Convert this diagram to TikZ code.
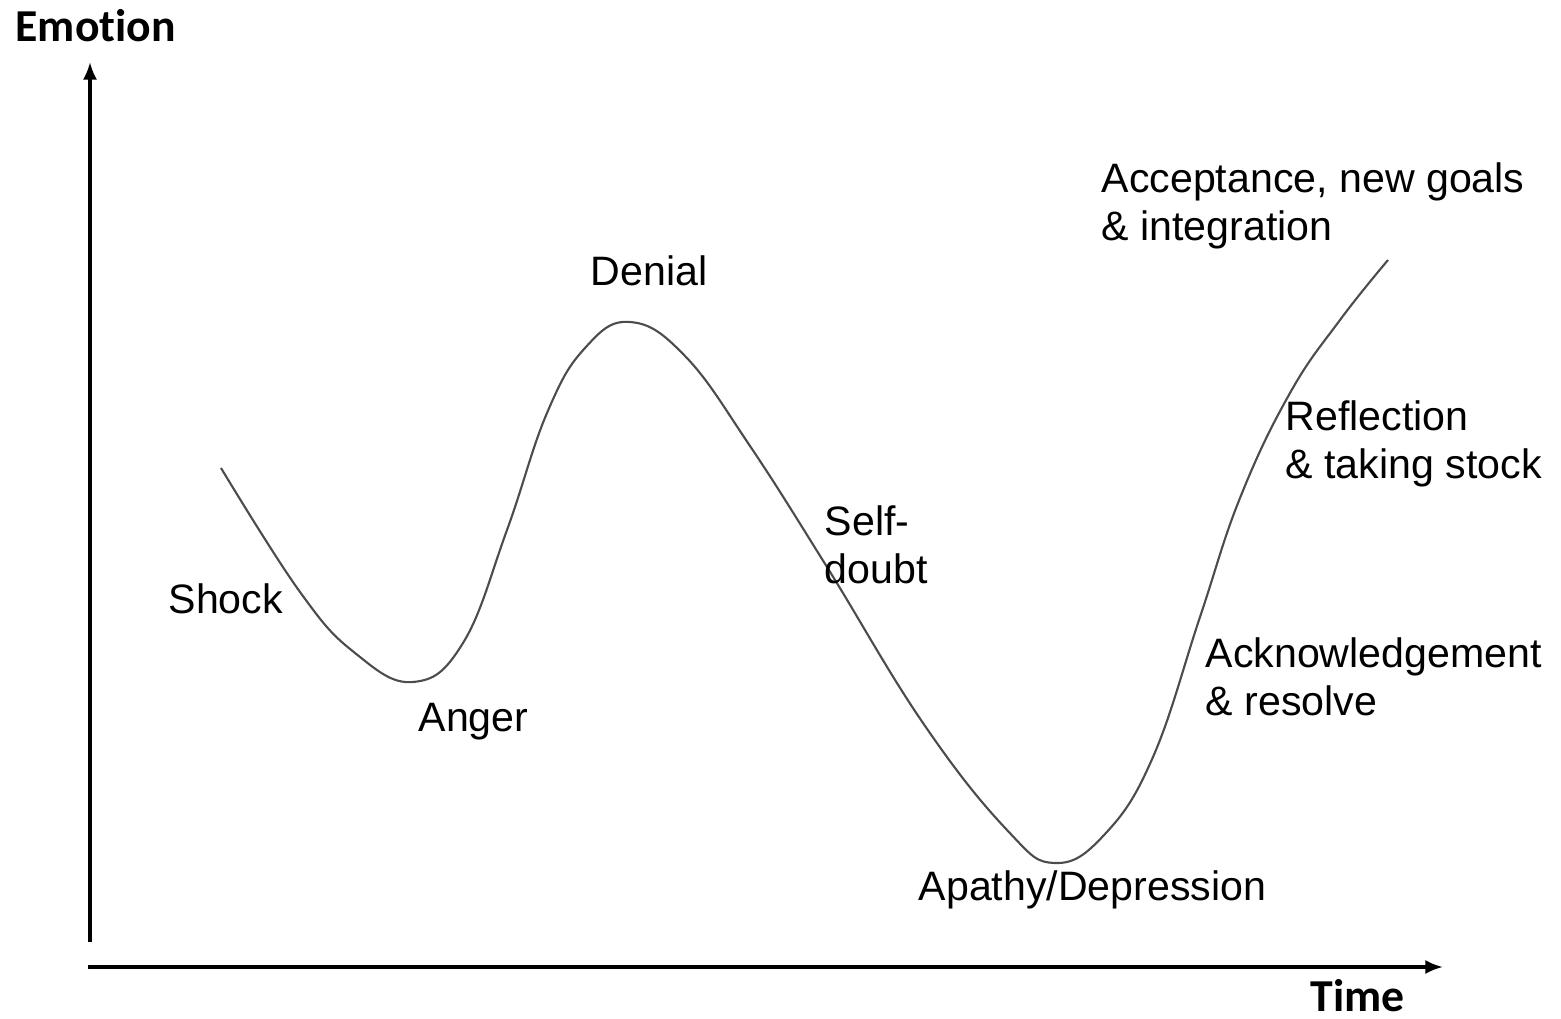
\documentclass[tikz,border=0pt]{standalone}
\usepackage{fontspec}
\setmainfont{Liberation Sans}
\newfontfamily\axisfont[Ligatures=NoCommon]{Carlito}
\usetikzlibrary{arrows.meta}
\tikzset{axis/.style={black,line width=0.9pt,-{Latex[length=5pt,width=4pt]}},
  curve/.style={black!70,line width=0.6pt},
  stage/.style={anchor=base west,inner sep=0pt,align=left,font=\fontsize{11.7}{13.6}\selectfont},
  axislabel/.style={anchor=base west,inner sep=0pt,font=\axisfont\bfseries\fontsize{13}{15}\selectfont}}

\begin{document}
\begin{tikzpicture}
  \useasboundingbox (0,0) rectangle (15.61,10.18);
  \coordinate (y0) at (0.90,0.76);
  \coordinate (y1) at (0.90,9.56);
  \coordinate (x0) at (0.88,0.51);
  \coordinate (x1) at (14.43,0.51);
  \draw[axis] (y0) -- (y1);
  \draw[axis] (x0) -- (x1);
  \node[axislabel] (emotion) at (0.15,9.76) {Emotion};
  \node[axislabel] (time) at (13.10,0.07) {Time};
  % the change curve
  \draw[curve] plot[smooth,tension=0.7] coordinates {
    (2.21,5.50) (3.00,4.26) (3.55,3.65) (4.13,3.36) (4.63,3.75)
    (5.07,4.88) (5.47,6.05) (5.85,6.70) (6.30,6.96) (6.85,6.62)
    (7.50,5.72) (8.27,4.51) (9.23,2.95) (10.07,1.88) (10.55,1.55)
    (11.05,1.84) (11.53,2.61) (12.00,4.01) (12.40,5.20) (12.90,6.25)
    (13.40,6.98) (13.88,7.58)};
  \node[stage] (shock) at (1.68,4.05) {Shock};
  \node[stage] (anger) at (4.18,2.87) {Anger};
  \node[stage] (denial) at (5.90,7.32) {Denial};
  \node[stage] (doubt) at (8.24,4.35) {Self-\\doubt};
  \node[stage] (apathy) at (9.18,1.18) {Apathy/Depression};
  \node[stage] (resolve) at (12.05,3.03) {Acknowledgement\\\& resolve};
  \node[stage] (reflect) at (12.85,5.40) {Reflection\\\& taking stock};
  \node[stage] (accept) at (11.01,7.78) {Acceptance, new goals\\\& integration};
\end{tikzpicture}
\end{document}
